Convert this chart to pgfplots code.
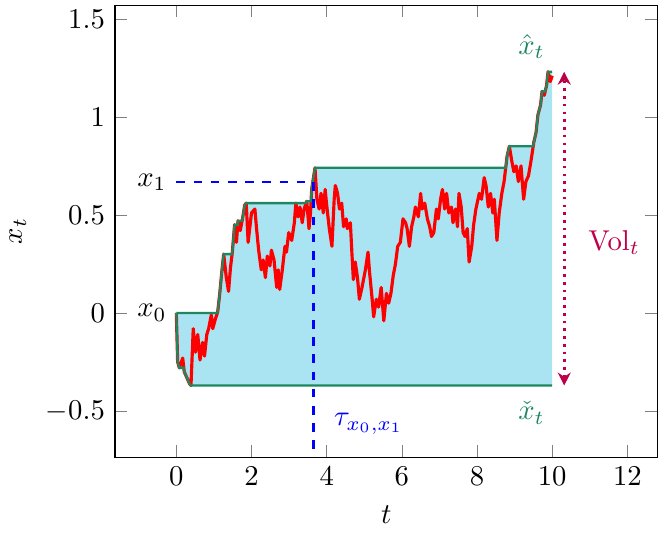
\documentclass[border=0pt]{standalone}
\usepackage{pgfplots}
\pgfplotsset{compat=1.18}
\usepgfplotslibrary{fillbetween}
\usetikzlibrary{arrows.meta}
\definecolor{volfill}{RGB}{170,228,243}
\definecolor{envgreen}{RGB}{30,135,95}
\definecolor{volcol}{RGB}{190,0,75}
\begin{document}
\begin{tikzpicture}
\begin{axis}[
  scale only axis,
  width=189pt, height=157.5pt,
  xmin=-1.63, xmax=12.8,
  ymin=-0.735, ymax=1.57,
  xtick={0,2,...,12},
  ytick={-0.5,0,0.5,1,1.5},
  xlabel={$t$}, ylabel={$x_t$},
  clip=false,
]
% running max
\addplot[draw=none, name path=mx, forget plot] coordinates {
(0,0) (1.091,0) (1.10,0.005) (1.15,0.09) (1.22,0.23) (1.26,0.30) (1.484,0.30) (1.49,0.31) (1.55,0.45) (1.633,0.45) (1.64,0.47) (1.75,0.47) (1.76,0.48) (1.82,0.55) (1.86,0.56) (3.455,0.56) (3.47,0.57) (3.585,0.57) (3.60,0.63) (3.64,0.68) (3.69,0.74) (8.763,0.74) (8.80,0.80) (8.86,0.85) (9.494,0.85) (9.51,0.87) (9.57,0.92) (9.62,1.01) (9.69,1.06) (9.73,1.13) (9.814,1.13) (9.85,1.16) (9.89,1.23) (10,1.23)
};
% running min
\addplot[draw=none, name path=mn, forget plot] coordinates {
(0,0) (0.035,-0.25) (0.08,-0.28) (0.199,-0.28) (0.21,-0.30) (0.28,-0.33) (0.35,-0.36) (0.39,-0.37) (10,-0.37)
};
\addplot[volfill, forget plot] fill between[of=mx and mn];
% path
\addplot[red, line width=1.1pt, line join=round] coordinates {
(0,0) (0.035,-0.25) (0.08,-0.28) (0.17,-0.23) (0.21,-0.30) (0.28,-0.33) (0.35,-0.36) (0.39,-0.37)
(0.45,-0.08) (0.51,-0.20) (0.57,-0.11) (0.63,-0.24) (0.70,-0.15) (0.75,-0.22) (0.81,-0.11) (0.86,-0.08)
(0.93,-0.01) (0.97,-0.08) (1.04,-0.03) (1.10,0.005) (1.15,0.09) (1.22,0.23) (1.26,0.30) (1.33,0.18)
(1.39,0.11) (1.44,0.23) (1.49,0.31) (1.55,0.45) (1.60,0.36) (1.64,0.47) (1.70,0.42) (1.76,0.48)
(1.82,0.55) (1.86,0.56) (1.91,0.36) (2.00,0.51) (2.09,0.53) (2.13,0.44) (2.19,0.32) (2.26,0.22)
(2.31,0.27) (2.37,0.18) (2.42,0.29) (2.49,0.24) (2.53,0.32) (2.60,0.27) (2.67,0.13) (2.71,0.22)
(2.75,0.12) (2.82,0.22) (2.89,0.34) (2.93,0.31) (2.99,0.41) (3.07,0.37) (3.14,0.46) (3.18,0.56)
(3.24,0.49) (3.29,0.54) (3.35,0.46) (3.40,0.53) (3.47,0.57) (3.53,0.43) (3.57,0.51) (3.60,0.63)
(3.64,0.68) (3.69,0.74) (3.74,0.58) (3.80,0.53) (3.85,0.61) (3.91,0.51) (3.96,0.63) (4.00,0.55)
(4.07,0.43) (4.14,0.34) (4.20,0.58) (4.23,0.65) (4.29,0.61) (4.34,0.53) (4.40,0.56) (4.45,0.44)
(4.52,0.48) (4.55,0.43) (4.63,0.46) (4.67,0.31) (4.71,0.17) (4.76,0.26) (4.82,0.18) (4.87,0.07)
(4.94,0.13) (4.98,0.17) (5.03,0.22) (5.10,0.31) (5.14,0.21) (5.21,0.07) (5.25,-0.02) (5.32,0.07)
(5.38,0.03) (5.45,0.13) (5.52,-0.04) (5.59,0.10) (5.65,0.05) (5.71,0.10) (5.77,0.19) (5.83,0.25)
(5.89,0.34) (5.96,0.36) (6.03,0.48) (6.10,0.46) (6.14,0.43) (6.20,0.34) (6.26,0.44) (6.32,0.49)
(6.36,0.54) (6.44,0.49) (6.50,0.61) (6.54,0.53) (6.61,0.56) (6.68,0.48) (6.74,0.44) (6.79,0.39)
(6.85,0.41) (6.92,0.53) (6.97,0.48) (7.03,0.58) (7.08,0.63) (7.14,0.53) (7.19,0.61) (7.25,0.51)
(7.32,0.54) (7.36,0.46) (7.43,0.53) (7.48,0.44) (7.52,0.61) (7.58,0.54) (7.63,0.41) (7.68,0.39)
(7.74,0.43) (7.79,0.26) (7.86,0.34) (7.91,0.45) (7.97,0.53) (8.06,0.61) (8.12,0.58) (8.19,0.69)
(8.24,0.65) (8.30,0.54) (8.36,0.61) (8.42,0.51) (8.46,0.58) (8.53,0.37) (8.59,0.51) (8.66,0.61)
(8.72,0.67) (8.80,0.80) (8.86,0.85) (8.92,0.78) (8.98,0.72) (9.04,0.75) (9.10,0.67) (9.17,0.75)
(9.24,0.58) (9.30,0.67) (9.37,0.70) (9.44,0.78) (9.51,0.87) (9.57,0.92) (9.62,1.01) (9.69,1.06)
(9.73,1.13) (9.79,1.11) (9.85,1.16) (9.89,1.23) (9.95,1.18) (10.00,1.21)
};
% envelopes drawn on top
\addplot[envgreen, thick] coordinates {
(0,0) (1.091,0) (1.10,0.005) (1.15,0.09) (1.22,0.23) (1.26,0.30) (1.484,0.30) (1.49,0.31) (1.55,0.45) (1.633,0.45) (1.64,0.47) (1.75,0.47) (1.76,0.48) (1.82,0.55) (1.86,0.56) (3.455,0.56) (3.47,0.57) (3.585,0.57) (3.60,0.63) (3.64,0.68) (3.69,0.74) (8.763,0.74) (8.80,0.80) (8.86,0.85) (9.494,0.85) (9.51,0.87) (9.57,0.92) (9.62,1.01) (9.69,1.06) (9.73,1.13) (9.814,1.13) (9.85,1.16) (9.89,1.23) (10,1.23)
};
\addplot[envgreen, thick] coordinates {
(0,0) (0.035,-0.25) (0.08,-0.28) (0.199,-0.28) (0.21,-0.30) (0.28,-0.33) (0.35,-0.36) (0.39,-0.37) (10,-0.37)
};
% first passage
\addplot[blue, dashed, line width=0.9pt] coordinates {(0,0.667) (3.65,0.667)};
\addplot[blue, dashed, line width=0.9pt] coordinates {(3.65,0.667) (3.65,-0.735)};
% volume arrow
\draw[volcol, line width=0.9pt, dash pattern=on 0.9pt off 1.8pt, {Stealth[length=4.5pt,width=4.5pt]}-{Stealth[length=4.5pt,width=4.5pt]}]
  (axis cs:10.32,-0.37) -- (axis cs:10.32,1.23);
\node[volcol] at (axis cs:11.65,0.36) {$\mathrm{Vol}_t$};
\node at (axis cs:-0.65,0) {$x_0$};
\node at (axis cs:-0.65,0.667) {$x_1$};
\node[envgreen] at (axis cs:9.45,1.36) {$\hat{x}_t$};
\node[envgreen] at (axis cs:9.45,-0.51) {$\check{x}_t$};
\node[blue] at (axis cs:5.12,-0.565) {$\tau_{x_0,x_1}$};
\end{axis}
\end{tikzpicture}
\end{document}
